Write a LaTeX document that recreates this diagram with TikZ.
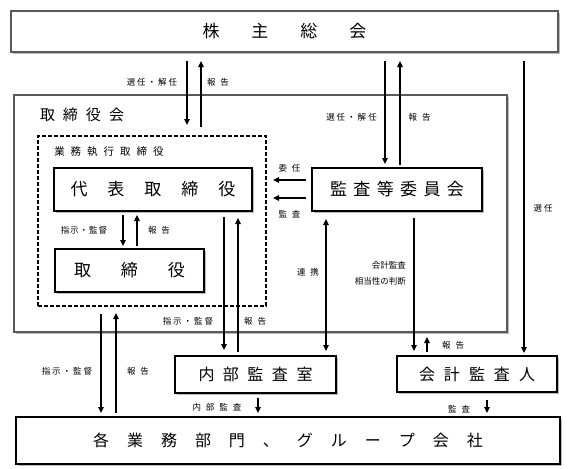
\documentclass[tikz,border=0pt]{standalone}
\usepackage{fontspec}
\newfontfamily\jp{Noto Sans CJK JP}
\usetikzlibrary{shadows,arrows.meta}
\makeatletter
\newcommand{\LS}[2]{\def\LS@sep{}\@tfor\LS@c:=#2\do{\LS@sep\LS@c\def\LS@sep{\hspace{#1}}}}
\makeatother
\begin{document}
\begin{tikzpicture}[x=1pt,y=-1pt,
  box/.style={draw=black, line width=1.3pt, fill=white, inner sep=0pt,
    drop shadow={shadow xshift=1.5pt, shadow yshift=-1.5pt, fill=black!45, opacity=0.6}},
  graybox/.style={draw=black!65, line width=1.8pt, fill=white, inner sep=0pt,
    drop shadow={shadow xshift=1.5pt, shadow yshift=-1.5pt, fill=black!45, opacity=0.6}},
  dashbox/.style={draw=black, line width=1.2pt, dash pattern=on 4pt off 2pt, inner sep=0pt},
  big/.style={font=\jp\fontsize{17}{20}\selectfont},
  mid/.style={font=\jp\fontsize{16}{19}\selectfont},
  lbl/.style={font=\jp\fontsize{8.5}{10}\selectfont, inner sep=0pt},
  arr/.style={line width=1.1pt, -{Triangle[length=6pt,width=5.5pt]}},
  darr/.style={line width=1.1pt, {Triangle[length=6pt,width=5.5pt]}-{Triangle[length=6pt,width=5.5pt]}}
]
\useasboundingbox (0,0) rectangle (571,469);
\fill[white] (0,0) rectangle (571,469);

% boxes
\node[graybox, big, minimum width=547pt, minimum height=41pt] (kabu) at (284.5,31.5) {\LS{32pt}{株主総会}};
\node[graybox, minimum width=493pt, minimum height=237pt] (board) at (260.5,213.5) {};
\node[font=\jp\fontsize{15}{18}\selectfont, inner sep=0pt] (boardlbl) at (82,115) {\LS{8pt}{取締役会}};
\node[dashbox, minimum width=228pt, minimum height=170pt] (exec) at (152,221) {};
\node[font=\jp\fontsize{10.5}{12}\selectfont, inner sep=0pt] (execlbl) at (109,152) {\LS{6pt}{業務執行取締役}};
\node[box, big, minimum width=198pt, minimum height=43pt] (dai) at (153,189.5) {\LS{20pt}{代表取締役}};
\node[box, big, minimum width=149pt, minimum height=43pt] (tori) at (129.5,270.5) {\LS{30pt}{取締役}};
\node[box, big, minimum width=170pt, minimum height=43pt] (kansa) at (397,189.5) {\LS{6.4pt}{監査等委員会}};
\node[box, mid, minimum width=161pt, minimum height=37pt] (naibu) at (255.5,374.5) {\LS{8.5pt}{内部監査室}};
\node[box, mid, minimum width=160pt, minimum height=36pt] (kaikei) at (477,374) {\LS{9pt}{会計監査人}};
\node[box, mid, minimum width=544pt, minimum height=47pt] (dept) at (288,440.5) {\LS{18pt}{各業務部門、グループ会社}};

% labels
\node[lbl] (l1) at (152,82) {\LS{2pt}{選任・解任}};
\node[lbl] (l2) at (218,82) {\LS{5pt}{報告}};
\node[lbl] (l3) at (351.5,117) {\LS{2pt}{選任・解任}};
\node[lbl] (l4) at (419.5,117) {\LS{5pt}{報告}};
\node[lbl] (l5) at (543,208) {\LS{2pt}{選任}};
\node[lbl] (l6) at (289.5,168) {\LS{5pt}{委任}};
\node[lbl] (l7) at (289.5,214) {\LS{5pt}{監査}};
\node[lbl] (l8) at (308,272) {\LS{5pt}{連携}};
\node[lbl, anchor=east] (l9) at (406,265) {会計監査};
\node[lbl, anchor=east] (l10) at (406,281) {相当性の判断};
\node[lbl] (l11) at (84,230) {\LS{1pt}{指示・監督}};
\node[lbl] (l12) at (159,230) {\LS{5pt}{報告}};
\node[lbl] (l13) at (188,321) {\LS{2pt}{指示・監督}};
\node[lbl] (l14) at (255,321) {\LS{5pt}{報告}};
\node[lbl] (l15) at (67,371) {\LS{2pt}{指示・監督}};
\node[lbl] (l16) at (138,371) {\LS{5pt}{報告}};
\node[lbl] (l17) at (217,407) {\LS{5pt}{内部監査}};
\node[lbl] (l18) at (453,345) {\LS{5pt}{報告}};
\node[lbl] (l19) at (459,409) {\LS{5pt}{監査}};

% connector end points
\coordinate (a1s) at (187,61);  \coordinate (a1e) at (187,125);
\coordinate (a2s) at (201,127); \coordinate (a2e) at (201,61);
\coordinate (a3s) at (385,61);  \coordinate (a3e) at (385,164);
\coordinate (a4s) at (400,165); \coordinate (a4e) at (400,61);
\coordinate (a5s) at (524,61);  \coordinate (a5e) at (524,353);
\coordinate (a6s) at (123,215); \coordinate (a6e) at (123,246);
\coordinate (a7s) at (137,246); \coordinate (a7e) at (137,215);
\coordinate (a8s) at (224,217); \coordinate (a8e) at (224,350);
\coordinate (a9s) at (238,352); \coordinate (a9e) at (238,218);
\coordinate (a10s) at (101,314); \coordinate (a10e) at (101,413);
\coordinate (a11s) at (116,413); \coordinate (a11e) at (116,313);
\coordinate (a12s) at (326,219); \coordinate (a12e) at (326,351);
\coordinate (a13s) at (414,218); \coordinate (a13e) at (414,351);
\coordinate (a14s) at (427,352); \coordinate (a14e) at (427,337);
\coordinate (a15s) at (258,398); \coordinate (a15e) at (258,413);
\coordinate (a16s) at (487,400); \coordinate (a16e) at (487,413);
\coordinate (a17s) at (306,180); \coordinate (a17e) at (273,180);
\coordinate (a18s) at (306,198); \coordinate (a18e) at (273,198);

\draw[arr] (a1s) -- (a1e);
\draw[arr] (a2s) -- (a2e);
\draw[arr] (a3s) -- (a3e);
\draw[arr] (a4s) -- (a4e);
\draw[arr] (a5s) -- (a5e);
\draw[arr] (a6s) -- (a6e);
\draw[arr] (a7s) -- (a7e);
\draw[arr] (a8s) -- (a8e);
\draw[arr] (a9s) -- (a9e);
\draw[arr] (a10s) -- (a10e);
\draw[arr] (a11s) -- (a11e);
\draw[darr] (a12s) -- (a12e);
\draw[arr] (a13s) -- (a13e);
\draw[arr] (a14s) -- (a14e);
\draw[arr] (a15s) -- (a15e);
\draw[arr] (a16s) -- (a16e);
\draw[arr] (a17s) -- (a17e);
\draw[arr] (a18s) -- (a18e);
\end{tikzpicture}
\end{document}
